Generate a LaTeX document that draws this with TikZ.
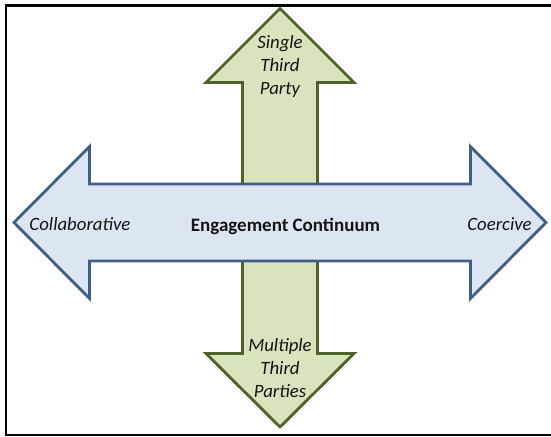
\documentclass[tikz,border=0pt]{standalone}
\usepackage{fontspec}
\setmainfont{Carlito}
\definecolor{bluefill}{HTML}{DCE6F2}
\definecolor{blueline}{HTML}{3F5F86}
\definecolor{greenfill}{HTML}{D7E4BD}
\definecolor{greenline}{HTML}{4F6228}
\definecolor{txt}{HTML}{141414}
\begin{document}
\begin{tikzpicture}[x=1pt,y=-1pt,
  greenarrow/.style={fill=greenfill,draw=greenline,line width=2.8pt,line join=miter},
  bluearrow/.style={fill=bluefill,draw=blueline,line width=2.8pt,line join=miter},
  lab/.style={font=\fontsize{18.8}{23}\selectfont\itshape,text=txt,align=center,inner sep=0pt},
  title/.style={font=\fontsize{19}{23}\selectfont\bfseries,text=txt,inner sep=0pt}]
\useasboundingbox (0,0) rectangle (551,436);
\begin{scope}
\clip (0,0) rectangle (551,436);
\draw[line width=2.2pt] (6,5.5) rectangle (556,435);
\end{scope}
% vertical green double arrow
\draw[greenarrow] (280,8.5) -- (354,82.5) -- (317.5,82.5) -- (317.5,353.5) -- (354,353.5)
  -- (280,427) -- (206,353.5) -- (242.5,353.5) -- (242.5,82.5) -- (206,82.5) -- cycle;
% horizontal blue double arrow
\draw[bluearrow] (14,222.5) -- (89.5,146.5) -- (89.5,184) -- (470.5,184) -- (470.5,146.5)
  -- (546,222.5) -- (470.5,298.5) -- (470.5,261) -- (89.5,261) -- (89.5,298.5) -- cycle;
\node[lab] (single) at (280,66) {Single\\Third\\Party};
\node[lab] (multiple) at (280,368) {Multiple\\Third\\Parties};
\node[lab] (collab) at (80,224) {Collaborative};
\node[lab] (coerc) at (499.5,224) {Coercive};
\node[title] (eng) at (285.5,226) {Engagement Continuum};
\end{tikzpicture}
\end{document}
